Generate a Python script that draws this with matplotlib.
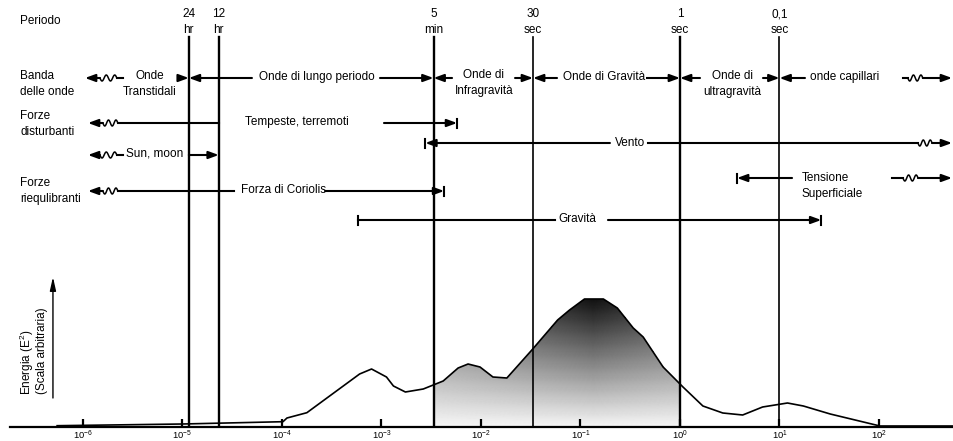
import numpy as np
import matplotlib.pyplot as plt

plt.rcParams['font.family'] = ['Liberation Sans', 'DejaVu Sans']
plt.rcParams['mathtext.fontset'] = 'custom'
plt.rcParams['mathtext.rm'] = 'Liberation Sans'
plt.rcParams['mathtext.it'] = 'Liberation Sans:italic'

# periods marked by the vertical lines
periods_s = [86400, 43200, 300, 30, 1, 0.1]
period_labels = ['24\nhr', '12\nhr', '5\nmin', '30\nsec', '1\nsec', '0,1\nsec']
period_lw = [1.7, 1.7, 1.7, 1.2, 1.7, 1.2]

# energy spectrum (log10 of frequency in Hz, arbitrary energy)
log_f = [-6.26, -5.0, -3.99, -3.95, -3.75, -3.22, -3.10, -2.95, -2.88, -2.76,
         -2.58, -2.48, -2.38, -2.23, -2.13, -2.01, -1.88, -1.74, -1.48, -1.23,
         -1.11, -0.96, -0.77, -0.63, -0.47, -0.37, -0.17, 0.03, 0.23, 0.43,
         0.63, 0.83, 1.08, 1.24, 1.51, 2.01, 2.74]
energy = [1.3, 3, 5.3, 9, 14.3, 53, 58, 50, 41, 35,
          38, 42, 46, 59, 63, 60, 50, 49, 78, 107,
          117, 128, 128, 119, 99, 90, 60, 40, 21, 14,
          12, 20, 24, 21, 13, 1, 1]

L24, L12, L5m, L30s, L1s, L01s = [np.log10(1 / p) for p in periods_s]

# rows of the upper diagram (y is in the same units as energy)
y_band, y_dist, y_vento, y_sun, y_tens, y_cor, y_grav = 349, 304, 284, 272, 249, 236, 207

# arrows: (from, to, y) with the head at "to"  (log10 f)
arrows = [
    (-5.025, L24, y_band), (-4.302, L24, y_band),
    (-3.015, L5m, y_band), (-2.291, L5m, y_band),
    (-1.658, L30s, y_band), (-1.236, L30s, y_band),
    (-0.402, L1s, y_band), (0.201, L1s, y_band),
    (0.834, L01s, y_band), (1.256, L01s, y_band),
    (-2.975, -2.24, y_dist),
    (-0.704, -2.56, y_vento),
    (L24, L12, y_sun),
    (1.126, 0.573, y_tens),
    (-3.568, -2.37, y_cor),
    (-0.724, 1.42, y_grav),
]
lines = [
    (-0.322, 2.392, y_vento),
    (-3.236, -1.256, y_grav),
]
bars = [(-2.24, y_dist), (-2.56, y_vento), (0.573, y_tens), (-2.37, y_cor),
        (-3.236, y_grav), (1.42, y_grav)]
# (tip, wiggle start, wiggle end, tail, y)
wave_left = [
    (-5.98, -5.83, -5.66, -5.60, y_band),
    (-5.95, -5.80, -5.65, L12, y_dist),
    (-5.95, -5.83, -5.66, -5.60, y_sun),
    (-5.95, -5.80, -5.65, -4.482, y_cor),
]
# (tail, wiggle start, wiggle end, tip, y)
wave_right = [
    (2.241, 2.29, 2.44, 2.734, y_band),
    (2.392, 2.392, 2.533, 2.734, y_vento),
    (2.131, 2.241, 2.392, 2.734, y_tens),
]
# (x, y, text, ha)
texts = [
    (-6.633, 406, 'Periodo', 'left'),
    (-6.633, 343, 'Banda\ndelle onde', 'left'),
    (-6.633, 303, 'Forze\ndisturbanti', 'left'),
    (-6.633, 236, 'Forze\nriequlibranti', 'left'),
    (-5.327, 343, 'Onde\nTranstidali', 'center'),
    (-3.648, 350, 'Onde di lungo periodo', 'center'),
    (-1.970, 344, 'Onde di\nInfragravità', 'center'),
    (-0.764, 350, 'Onde di Gravità', 'center'),
    (0.523, 343, 'Onde di\nultragravità', 'center'),
    (1.307, 350, 'onde capillari', 'left'),
    (-4.372, 305, 'Tempeste, terremoti', 'left'),
    (-0.503, 284, 'Vento', 'center'),
    (-5.568, 273, 'Sun, moon', 'left'),
    (1.226, 241, 'Tensione\nSuperficiale', 'left'),
    (-4.412, 237, 'Forza di Coriolis', 'left'),
    (-1.035, 208, 'Gravità', 'center'),
]

fig = plt.figure(figsize=(9.54, 4.41), dpi=100)
ax = fig.add_axes([0, 14 / 441, 1, 427 / 441])
ax.set_xscale('log')
ax.set_xlim(10 ** (-6 - 83 / 99.5), 10 ** (-6 + 871 / 99.5))
ax.set_ylim(0, 427)

AP = dict(arrowstyle='-|>,head_length=0.6,head_width=0.22', lw=1.5, color='k',
          shrinkA=0, shrinkB=0)

# shaded part of the spectrum (5 min .. 1 s)
xs = np.linspace(L5m, L1s, 300)
es = np.interp(xs, log_f, energy)
poly = ax.fill_between(10 ** xs, 0, es, color='none', lw=0)
gx, gy = np.meshgrid(xs, np.linspace(0, 130, 120))
dark = 0.9 * np.clip(gy / 128, 0, 1) ** 1.0 * (1 - 0.22 * np.abs(gx + 0.87))
mesh = ax.pcolormesh(10 ** gx, gy, 0.97 - dark, cmap='gray', vmin=0, vmax=1,
                     shading='gouraud', zorder=1)
mesh.set_clip_path(poly.get_paths()[0], ax.transData)

ax.plot(10 ** np.array(log_f), energy, color='k', lw=1.2, zorder=3)

for p, lab, lw in zip(periods_s, period_labels, period_lw):
    ax.plot([1 / p, 1 / p], [0, 390], color='k', lw=lw, zorder=4)
    ax.text(1 / p, 405, lab, ha='center', va='center', fontsize=8.5, linespacing=1.35)

for x0, x1, y in arrows:
    ax.annotate('', xy=(10 ** x1, y), xytext=(10 ** x0, y), arrowprops=AP)
for x0, x1, y in lines:
    ax.plot([10 ** x0, 10 ** x1], [y, y], color='k', lw=1.5)
for x, y in bars:
    ax.plot([10 ** x, 10 ** x], [y - 4.5, y + 4.5], color='k', lw=1.5)

t = np.linspace(0, 1, 60)
for tip, w0, w1, tail, y in wave_left:
    ax.annotate('', xy=(10 ** tip, y), xytext=(10 ** w0, y), arrowprops=AP)
    ax.plot(10 ** (w0 + (w1 - w0) * t), y - 3 * np.sin(4 * np.pi * t), color='k', lw=1.1)
    ax.plot([10 ** w1, 10 ** tail], [y, y], color='k', lw=1.5)
for tail, w0, w1, tip, y in wave_right:
    ax.plot([10 ** tail, 10 ** w0], [y, y], color='k', lw=1.5)
    ax.plot(10 ** (w0 + (w1 - w0) * t), y - 3 * np.sin(4 * np.pi * t), color='k', lw=1.1)
    ax.annotate('', xy=(10 ** tip, y), xytext=(10 ** w1, y), arrowprops=AP)

for x, y, s, ha in texts:
    boxed = '\n' not in s and ha == 'center'
    ax.text(10 ** x, y, s, ha=ha, va='center', fontsize=8.5, linespacing=1.45,
            bbox=dict(facecolor='white', edgecolor='none', pad=0.5) if boxed else None)

# energy axis arrow and label
ax.annotate('', xy=(10 ** -6.302, 150), xytext=(10 ** -6.302, 29),
            arrowprops=dict(arrowstyle='-|>,head_length=0.8,head_width=0.18', lw=1.0,
                            color='k', shrinkA=0, shrinkB=0))
ax.text(10 ** -6.563, 32, 'Energia (E$^2$)', rotation=90, ha='center', va='bottom', fontsize=8.5)
ax.text(10 ** -6.412, 33, '(Scala arbitraria)', rotation=90, ha='center', va='bottom', fontsize=8.5)

for s in ['top', 'left', 'right']:
    ax.spines[s].set_visible(False)
ax.spines['bottom'].set_linewidth(1.6)
ax.spines['bottom'].set_bounds(10 ** (-6 - 73 / 99.5), 10 ** (-6 + 871 / 99.5))
ax.set_xticks([10.0 ** k for k in range(-6, 3)])
ax.minorticks_off()
ax.tick_params(axis='x', direction='in', length=6, width=1.6, labelsize=6.8, pad=1)
ax.set_yticks([])

fig.savefig('out.png', dpi=100)
